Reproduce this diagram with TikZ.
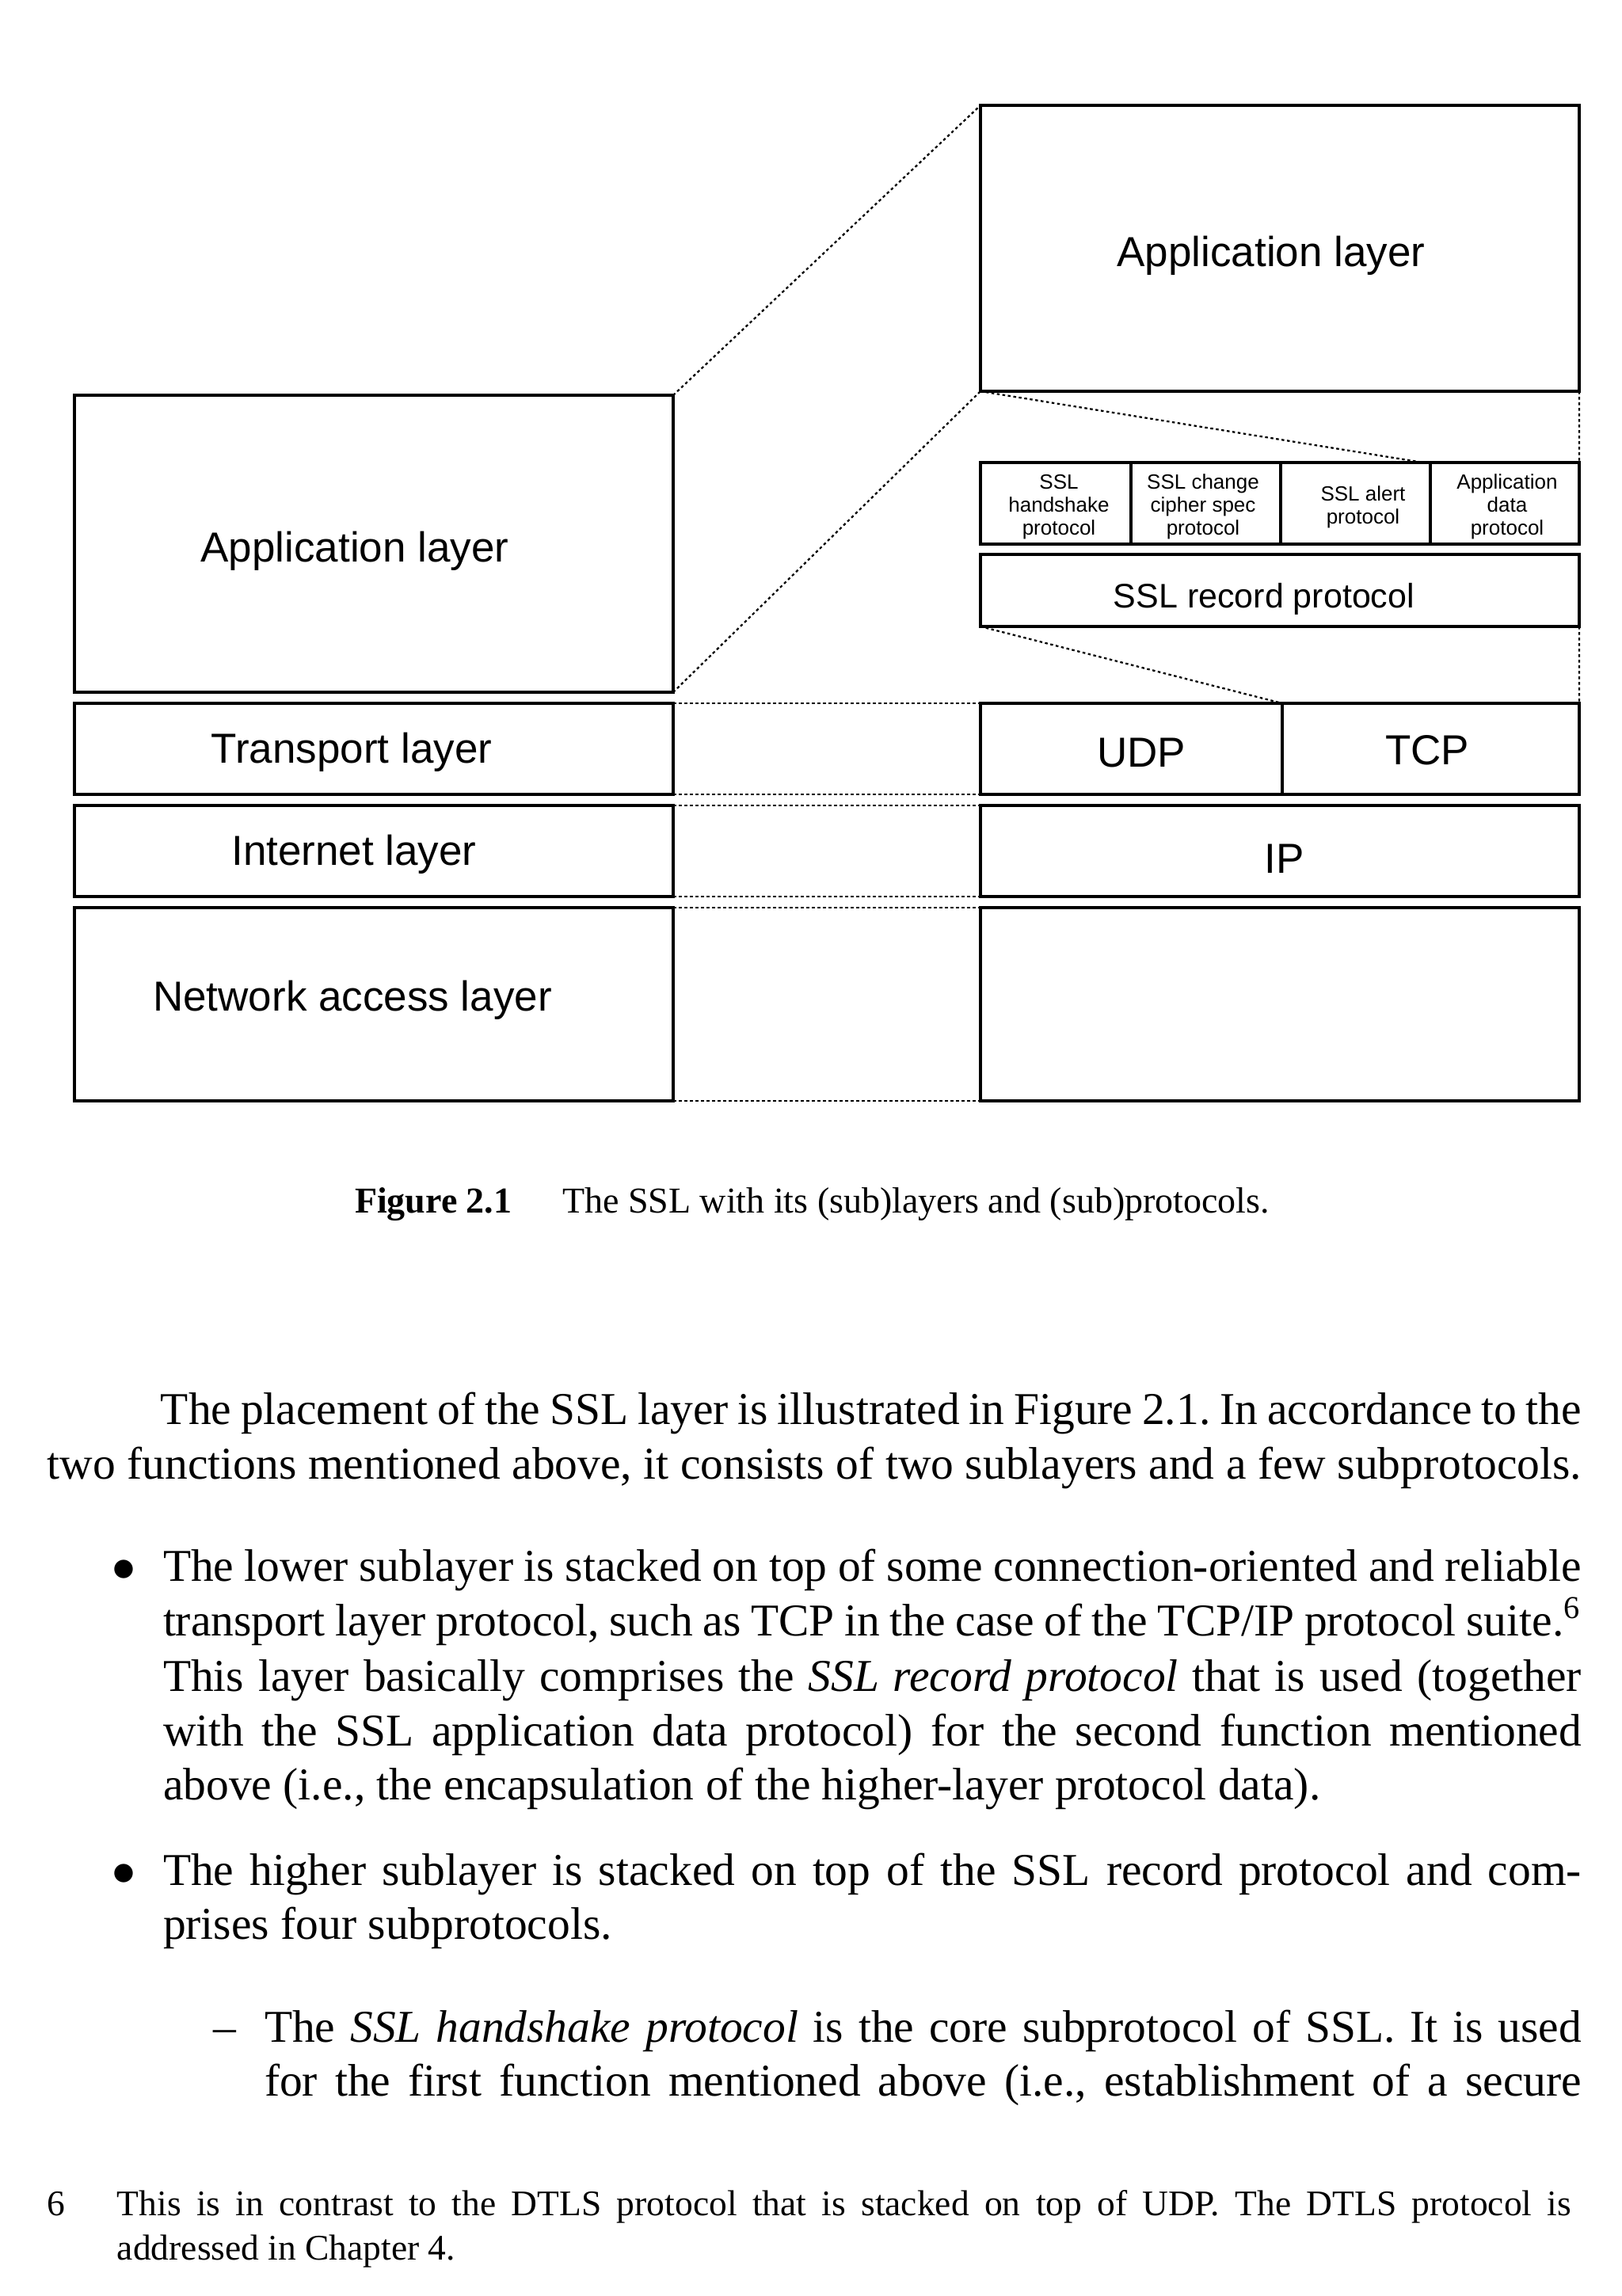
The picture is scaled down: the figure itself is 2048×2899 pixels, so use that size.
\documentclass[tikz,border=0pt]{standalone}
\usepackage{fontspec}
\setmainfont{Liberation Serif}
\newfontfamily\arialf{Liberation Sans}
\usetikzlibrary{calc}
\AtBeginDocument{\frenchspacing}
\begin{document}
\begin{tikzpicture}[x=0.2pt,y=-0.2pt,
  boxst/.style={draw, line width=0.9pt, inner sep=0pt, outer sep=0pt, anchor=north west},
  biglab/.style={anchor=base, inner sep=0pt, font=\arialf\fontsize{10.6}{12}\selectfont},
  reclab/.style={anchor=base, inner sep=0pt, font=\arialf\fontsize{8.6}{10}\selectfont},
  sublab/.style={anchor=center, inner sep=0pt, align=center, font=\arialf\fontsize{5.2}{5.8}\selectfont},
  dotst/.style={line width=0.45pt, dash pattern=on 0.7pt off 0.7pt},
  bodyst/.style={anchor=base west, inner sep=0pt, font=\fontsize{11.5}{13.8}\selectfont},
  capst/.style={anchor=base west, inner sep=0pt, font=\fontsize{9.2}{11}\selectfont},
  fnst/.style={anchor=base west, inner sep=0pt, font=\fontsize{9.1}{11}\selectfont}]
\useasboundingbox (0,0) rectangle (2048,2899);

% left stack
\node[boxst, minimum width=151.2pt, minimum height=75pt] (lapp) at (94,499) {};
\node[boxst, minimum width=151.2pt, minimum height=23pt] (ltrans) at (94,888) {};
\node[boxst, minimum width=151.2pt, minimum height=23pt] (linet) at (94,1017) {};
\node[boxst, minimum width=151.2pt, minimum height=48.8pt] (lnet) at (94,1146) {};
\node[biglab] (lappt) at (448,709) {Application layer};
\node[biglab] (ltranst) at (444,963) {Transport layer};
\node[biglab] (linett) at (447,1092) {Internet layer};
\node[biglab] (lnett) at (445,1276) {Network access layer};

% right stack
\node[boxst, minimum width=151.2pt, minimum height=72.2pt] (rapp) at (1238,133) {};
\node[boxst, minimum width=38pt, minimum height=20.6pt] (hs) at (1238,584) {};
\node[boxst, minimum width=37.8pt, minimum height=20.6pt] (ccs) at (1428,584) {};
\node[boxst, minimum width=37.8pt, minimum height=20.6pt] (alert) at (1617,584) {};
\node[boxst, minimum width=37.6pt, minimum height=20.6pt] (appdata) at (1806,584) {};
\node[boxst, minimum width=151.2pt, minimum height=18.2pt] (rec) at (1238,700) {};
\node[boxst, minimum width=76.2pt, minimum height=23pt] (udp) at (1238,888) {};
\node[boxst, minimum width=75pt, minimum height=23pt] (tcp) at (1619,888) {};
\node[boxst, minimum width=151.2pt, minimum height=23pt] (ip) at (1238,1017) {};
\node[boxst, minimum width=151.2pt, minimum height=48.8pt] (rnet) at (1238,1146) {};

\node[biglab] (rappt) at (1605,336) {Application layer};
\node[sublab] (hst) at (1337,640) {SSL\\handshake\\protocol};
\node[sublab] (ccst) at (1519,640) {SSL change\\cipher spec\\protocol};
\node[sublab] (alertt) at (1721,640) {SSL alert\\protocol};
\node[sublab] (appdatat) at (1903,640) {Application\\data\\protocol};
\node[reclab] (rect) at (1596,767) {SSL record protocol};
\node[biglab] (udpt) at (1441,968) {UDP};
\node[biglab] (tcpt) at (1802,965) {TCP};
\node[biglab] (ipt) at (1622,1102) {IP};

% dotted connectors
\draw[dotst] (lapp.north east) -- (rapp.north west);
\draw[dotst] (lapp.south east) -- (rapp.south west);
\draw[dotst] (rapp.south west) -- ($(alert.north east)+(-9,0)$);
\draw[dotst] (rapp.south east) -- (appdata.north east);
\draw[dotst] (rec.south west) -- (udp.north east);
\draw[dotst] (rec.south east) -- (tcp.north east);
\draw[dotst] (ltrans.north east) -- (udp.north west);
\draw[dotst] (ltrans.south east) -- (udp.south west);
\draw[dotst] (linet.north east) -- (ip.north west);
\draw[dotst] (linet.south east) -- (ip.south west);
\draw[dotst] (lnet.north east) -- (rnet.north west);
\draw[dotst] (lnet.south east) -- (rnet.south west);

% caption
\node[capst] (capa) at (447,1531) {\textbf{Figure 2.1}};
\node[capst] (capb) at (709,1531) {The SSL with its (sub)layers and (sub)protocols.};

% body text
\node[bodyst] (p1) at (202,1798) {\hbox to 358.8pt{The placement of the SSL layer is illustrated in Figure 2.1. In accordance to the}};
\node[bodyst] (p2) at (59,1867) {\hbox to 387.4pt{two functions mentioned above, it consists of two sublayers and a few subprotocols.}};

\node[bodyst] (bul1) at (140,1996) {$\bullet$};
\node[bodyst] (b1a) at (205,1996) {\hbox to 358.2pt{The lower sublayer is stacked on top of some connection-oriented and reliable}};
\node[bodyst] (b1b) at (205,2065) {\hbox to 358.2pt{transport layer protocol, such as TCP in the case of the TCP/IP protocol suite.\textsuperscript{6}}};
\node[bodyst] (b1c) at (205,2135) {\hbox to 358.2pt{This layer basically comprises the \textit{SSL record protocol} that is used (together}};
\node[bodyst] (b1d) at (205,2204) {\hbox to 358.2pt{with the SSL application data protocol) for the second function mentioned}};
\node[bodyst] (b1e) at (205,2272) {above (i.e., the encapsulation of the higher-layer protocol data).};

\node[bodyst] (bul2) at (140,2380) {$\bullet$};
\node[bodyst] (b2a) at (205,2380) {\hbox to 358.2pt{The higher sublayer is stacked on top of the SSL record protocol and com-}};
\node[bodyst] (b2b) at (205,2448) {prises four subprotocols.};

\node[bodyst] (dsh) at (268,2578) {\textendash};
\node[bodyst] (d1a) at (333,2578) {\hbox to 332.6pt{The \textit{SSL handshake protocol} is the core subprotocol of SSL. It is used}};
\node[bodyst] (d1b) at (333,2646) {\hbox to 332.6pt{for the first function mentioned above (i.e., establishment of a secure}};

% footnote
\node[fnst] (fnn) at (58,2797) {6};
\node[fnst] (fn1) at (147,2797) {\hbox to 367.2pt{This is in contrast to the DTLS protocol that is stacked on top of UDP. The DTLS protocol is}};
\node[fnst] (fn2) at (147,2853) {addressed in Chapter 4.};
\end{tikzpicture}
\end{document}
